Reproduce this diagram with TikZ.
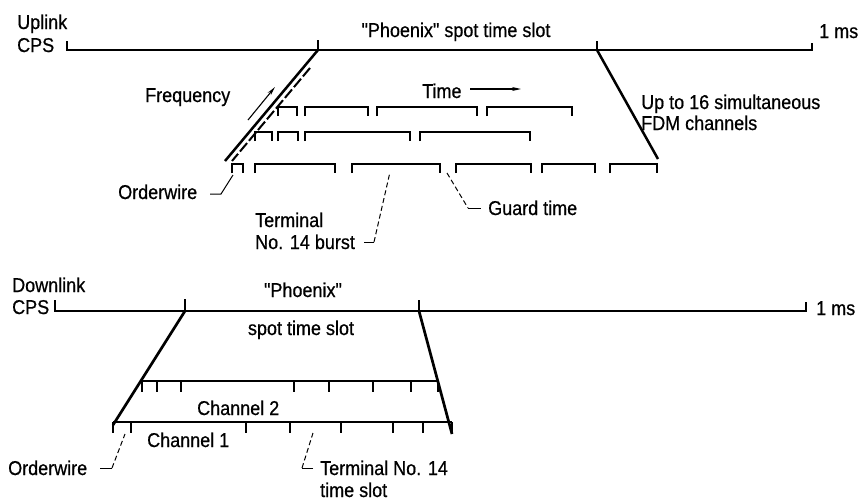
\documentclass[tikz,border=0pt]{standalone}
\usepackage{fontspec}
\newfontfamily\ufont{Liberation Sans}[FakeStretch=0.9,FakeBold=0.6]
\usetikzlibrary{arrows.meta}
\newcommand\burstbox[3]{\draw[brk] (#1,#3+9) -- (#1,#3) -- (#2,#3) -- (#2,#3+9);}
\newcommand\tickdown[3]{\draw[tk] (#1,#2) -- (#1,#3);}
\begin{document}
\begin{tikzpicture}[x=1pt,y=-1pt,
  lbl/.style={inner sep=0pt, anchor=base west, font=\ufont\fontsize{20}{22}\selectfont},
  lblc/.style={inner sep=0pt, anchor=base, font=\ufont\fontsize{20}{22}\selectfont},
  axis/.style={line width=1.9pt},
  slant/.style={line width=2.5pt},
  brk/.style={line width=2pt},
  tk/.style={line width=2.3pt},
  lead/.style={line width=1pt},
  leaddash/.style={line width=1pt, dash pattern=on 5pt off 3pt},
  arr/.style={line width=1.1pt, -{Stealth[length=9pt,width=4pt]}}]
\useasboundingbox (0,0) rectangle (861,501);

% ---------------- Uplink ----------------
\node[lbl] (uplink) at (17,29) {Uplink};
\node[lbl] (ucps) at (17,52) {CPS};
\node[lblc] (uphx) at (456,37) {"Phoenix" spot time slot};
\node[lbl] (ums) at (819,38) {1 ms};

\coordinate (uL) at (67,50);
\coordinate (uA) at (318,50);
\coordinate (uB) at (597,50);
\coordinate (uR) at (812,50);
\draw[axis] (67,41) -- (uL) -- (uR) -- (812,43);
\draw[tk] (318,40) -- (uA);
\draw[tk] (597,41) -- (uB);

% slanted edges of the spot slot
\coordinate (uAlow) at (225,161);
\coordinate (uBlow) at (658,159);
\draw[slant] (uA) -- (uAlow);
\draw[slant] (uB) -- (uBlow);
\coordinate (ud1) at (310,68);
\coordinate (ud2) at (232,161);
\draw[line width=2pt, dash pattern=on 11pt off 3pt] (ud1) -- (ud2);

% frequency arrow
\node[lbl] (freq) at (145,102) {Frequency};
\coordinate (fa1) at (248,120);
\coordinate (fa2) at (275,87);
\draw[arr] (fa1) -- (fa2);

% time arrow
\node[lbl] (time) at (422,98) {Time};
\coordinate (ta1) at (470,89);
\coordinate (ta2) at (521,89);
\draw[arr] (ta1) -- (ta2);

\node[lbl] (up16) at (641,109) {Up to 16 simultaneous};
\node[lbl] (fdm) at (641,130) {FDM channels};

% bursts, row 1
\burstbox{278}{297}{107}
\burstbox{305}{368}{107}
\burstbox{377}{477}{107}
\burstbox{487}{572}{107}
% row 2
\burstbox{255}{272}{132}
\burstbox{278}{298}{132}
\burstbox{305}{410}{132}
\burstbox{420}{530}{132}
% row 3
\burstbox{232}{243}{164}
\burstbox{255}{335}{164}
\burstbox{352}{440}{164}
\burstbox{456}{531}{164}
\burstbox{542}{595}{164}
\burstbox{610}{657}{164}

% labels with leaders
\node[lbl] (uow) at (118,199) {Orderwire};
\coordinate (uow1) at (210,194);
\coordinate (uow2) at (221,194);
\coordinate (uow3) at (233,175);
\draw[lead] (uow1) -- (uow2) -- (uow3);

\node[lbl] (term) at (255,227) {Terminal};
\node[lbl] (no14) at (255,249) {No. 14 burst};
\coordinate (tb1) at (364,242);
\coordinate (tb2) at (374,242);
\coordinate (tb3) at (390,172);
\draw[lead] (tb1) -- (tb2);
\draw[leaddash] (tb2) -- (tb3);

\node[lbl] (guard) at (488,215) {Guard time};
\coordinate (gt1) at (447,173);
\coordinate (gt2) at (468,208);
\coordinate (gt3) at (481,208);
\draw[leaddash] (gt1) -- (gt2);
\draw[lead] (gt2) -- (gt3);

% ---------------- Downlink ----------------
\node[lbl] (dlink) at (12,292) {Downlink};
\node[lbl] (dcps) at (12,314) {CPS};
\node[lblc] (dphx) at (303,297) {"Phoenix"};
\node[lblc] (dspot) at (301,335) {spot time slot};
\node[lbl] (dms) at (816,315) {1 ms};

\coordinate (dL) at (55,311);
\coordinate (dA) at (185,311);
\coordinate (dB) at (419,311);
\coordinate (dR) at (806,311);
\draw[axis] (55,300) -- (dL) -- (dR) -- (806,302);
\draw[tk] (185,299) -- (dA);
\draw[tk] (419,300) -- (dB);

\coordinate (dAlow) at (113,425);
\coordinate (dBlow) at (452,434);
\draw[line width=2.7pt] (dA) -- (dAlow);
\draw[line width=2.7pt] (dB) -- (dBlow);

% channel 2
\coordinate (c2a) at (142,381);
\coordinate (c2b) at (438,381);
\draw[axis] (c2a) -- (c2b);
\foreach \x in {142,157,181,294,329,373,411,438} {\tickdown{\x}{381}{392}}
% channel 1
\coordinate (c1a) at (113,422);
\coordinate (c1b) at (452,422);
\draw[axis] (c1a) -- (c1b);
\foreach \x in {113,131,246,290,341,393,423,452} {\tickdown{\x}{422}{433}}

\node[lbl] (ch2) at (197,415) {Channel 2};
\node[lbl] (ch1) at (147,447) {Channel 1};

\node[lbl] (dow) at (8,475) {Orderwire};
\coordinate (do1) at (100,468);
\coordinate (do2) at (112,468);
\coordinate (do3) at (125,434);
\draw[lead] (do1) -- (do2);
\draw[leaddash] (do2) -- (do3);

\node[lbl] (dterm) at (320,475) {Terminal No. 14};
\node[lbl] (dslot) at (320,497) {time slot};
\coordinate (dt1) at (313,468);
\coordinate (dt2) at (302,468);
\coordinate (dt3) at (313,433);
\draw[lead] (dt1) -- (dt2);
\draw[leaddash] (dt2) -- (dt3);
\end{tikzpicture}
\end{document}
